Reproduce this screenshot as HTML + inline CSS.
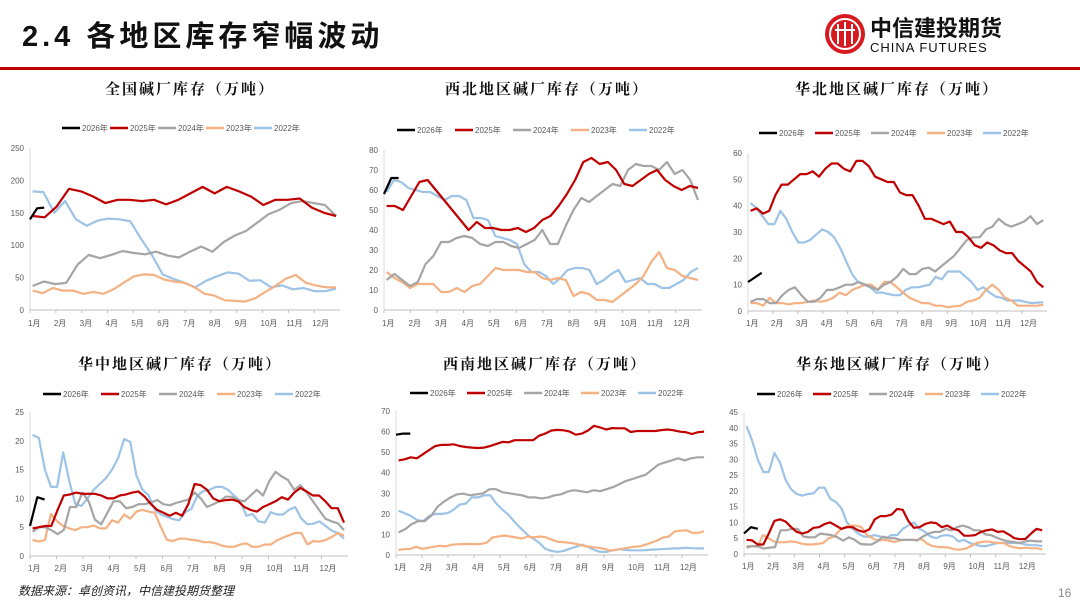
<!DOCTYPE html>
<html><head><meta charset="utf-8">
<style>
body{margin:0;width:1080px;height:608px;background:#fff;overflow:hidden;font-family:"Liberation Sans","Noto Sans CJK SC",sans-serif;}
svg{position:absolute;left:0;top:0}
</style></head>
<body>
<svg id="s" width="1080" height="608">
<text x="22" y="46" font-size="29" font-weight="bold" fill="#111" font-family="Liberation Sans,Noto Sans CJK SC,sans-serif" letter-spacing="4">2.4 各地区库存窄幅波动</text>
<g>
<circle cx="845" cy="34" r="20" fill="#d71920"/>
<circle cx="845" cy="34" r="15" fill="none" stroke="#fff" stroke-width="2"/>
<path d="M838 24 V44 M845 22 V46 M852 24 V44 M835 30 H855" stroke="#fff" stroke-width="2" fill="none"/>
<text x="870" y="36" font-size="22" font-weight="bold" fill="#111" font-family="Noto Sans CJK SC,sans-serif">中信建投期货</text>
<text x="870" y="52" font-size="13" fill="#111" letter-spacing="1">CHINA FUTURES</text>
</g>
<rect x="0" y="67" width="1080" height="3" fill="#c00000"/>
<text x="18" y="595" font-size="12" font-style="italic" fill="#222" font-family="Liberation Sans,Noto Sans CJK SC,sans-serif">数据来源：卓创资讯，中信建投期货整理</text>
<text x="1058" y="597" font-size="12" fill="#888">16</text>
</svg>
<script>
const seriesNames=["2026年","2025年","2024年","2023年","2022年"];
const colors=["#000000","#c00000","#a5a5a5","#f4b183","#9dc3e6"];
const months=["1月","2月","3月","4月","5月","6月","7月","8月","9月","10月","11月","12月"];
const titles=["全国碱厂库存（万吨）","西北地区碱厂库存（万吨）","华北地区碱厂库存（万吨）","华中地区碱厂库存（万吨）","西南地区碱厂库存（万吨）","华东地区碱厂库存（万吨）"];
const yMax=[250,80,60,25,70,45];
const yStep=[50,10,10,5,10,5];
const p1_2026=[140,157,158];
const p1_2025=[145,143,160,187,183,175,165,170,170,168,170,163,170,180,190,180,190,183,175,162,170,170,172,158,150,145];
const p1_2024=[37,44,40,42,70,85,80,85,91,88,86,90,84,81,90,98,90,105,115,122,135,148,155,165,168,165,162,145];
const p1_2023=[30,26,34,30,30,25,28,25,32,42,52,55,54,47,44,42,35,25,22,15,14,13,18,28,37,48,54,42,38,35,35];
const p1_2022=[183,182,150,168,140,130,138,141,140,137,110,85,55,48,42,35,45,52,58,56,45,46,35,38,32,34,29,29,33];
const p2_2026=[58,66,66];
const p2_2025=[52,52,50,57,64,65,60,55,50,45,40,44,41,41,40,40,41,39,41,45,47,52,58,65,74,76,73,74,70,63,62,65,68,70,65,62,60,62,61];
const p2_2024=[15,18,15,12,14,23,27,34,34,36,37,36,33,32,34,34,32,31,33,35,40,33,33,42,50,56,54,57,60,63,62,70,73,72,72,70,74,68,70,65,55];
const p2_2023=[19,16,14,11,13,13,13,9,9,11,9,12,13,17,21,20,20,20,19,19,16,15,16,15,7,9,8,5,5,4,7,10,13,17,24,29,21,20,17,16,15];
const p2_2022=[59,65,64,61,60,59,59,57,55,57,57,55,46,46,45,37,36,35,33,23,19,19,17,13,16,20,21,21,20,13,15,18,20,14,15,16,13,13,11,11,13,15,19,21];
const p3_2026=[11,14.5];
const p3_2025=[38,39,37,38,44,48,48,50,52,52,53,51,54,56,56,54,53,57,57,55,51,50,49,49,45,44,44,40,35,35,34,33,34,30,30,28,25,24,26,25,23,22,22,19,17,15,11,9];
const p3_2024=[3.5,4.5,4.5,3,3,6,8,9,6,3.5,3.5,5,8,8,9,10,10,11,10,9,8,10,11,13,16,14,14,16,16.5,15,17,19,21,24,27,28,28,31,32,35,33,32,33,34,36,33,34.5];
const p3_2023=[3,3,2,5,3,3,2.5,3,3,3.5,4,3.5,4,5,7,6,8,9,10,10,8,11,11,9,7,5,4,3,3,2,2,1.5,1.8,2,3.5,4,5,8,10,8,5,4,2,2,2,2,2.3];
const p3_2022=[41,39,36,33,33,38,35,30,26,26,27,29,31,30,28,24,19,14,11,10,9,7,7,6.5,6,6,8,9,9,9.5,10,13,12,15,15,15,13,11,8,9,7,5.5,5,4,4,4,3.5,3,3.2,3.3];
const p4_2026=[5.2,10.2,9.8];
const p4_2025=[4.8,5,5.2,5.2,8,10.5,10.7,11,10.8,10.8,10.8,10.5,10,10,10.5,10.7,11,11.2,10.3,9,8,7.5,7,7.5,7,9,12.5,12.3,11.5,10,9.5,9.7,9.8,9.5,8.5,8,7.7,8.5,9,9.5,10.2,9.8,11,11.8,11.2,10.5,10.5,9.5,8.3,8.3,5.8];
const p4_2024=[4.2,5,5,4.5,3.8,4.5,8.5,8.5,11,9.5,6.3,5.5,7.5,9.5,9.5,8.3,8.5,9,9,9.3,9.7,9,8.8,9.2,9.5,9.8,11,10,8.5,9,9.5,10.3,10.3,9.7,9.5,10.5,11.5,10.5,13,14.6,13.8,13.2,11.5,12.3,11,9.5,8,6.5,6,5.7,4.5];
const p4_2023=[2.8,2.5,2.8,7.3,6,5.2,4.8,4.5,5,5,5.3,4.8,4.8,6.2,5.8,7.2,6.5,7.7,8,7.7,7.5,5,2.8,2.6,3,3,2.8,2.7,2.4,2.4,2.2,1.8,1.6,1.6,2,2.2,1.6,1.6,2,2,2.7,3.2,3.6,4,4,2,2.6,2.5,2.8,3.3,4,3.5];
const p4_2022=[21,20.5,15,12,12,18,13,9,8.7,10,11.5,12.5,13.5,15,17,20.3,19.8,14,11.5,10.5,8,7.2,6.8,6.4,6.2,7.6,8.2,10.5,11.3,11.5,12,12,11.5,10.5,9.5,7,7.3,6,5.8,7.6,7.2,7.2,8,8.5,6.5,5.5,5.6,6,5.2,4.4,4,3];
const p5_2026=[58.5,59,59];
const p5_2025=[46,46.5,47.5,47,49,51,53,53.5,53.5,53.8,53,52.5,52.2,52,52.2,53,54,55,54.8,55.8,55.8,55.8,55.8,58,59,60.5,60.8,60.6,60,58.5,59,60.5,62.8,62,61,61.7,61.6,61.6,59.8,60.3,60.3,60.3,60.3,60.7,61,60.6,60,59.7,58.8,59.7,60];
const p5_2024=[11,12.5,15,16.5,16.5,19,23.5,26,28,29.5,29.8,29,29.5,30,32,32,30.5,30,29.5,29,28,28,27.5,28,29,29.5,30.8,31.5,31,30.5,31.5,31,32,33,34.5,36,37,38,39,41.5,44,45,46,47,46,47,47.5,47.5];
const p5_2023=[2.5,2.8,3,4,3,3.5,4,4.5,4.2,5,5.2,5.3,5.4,5.3,5.4,6,8.5,9,9.5,9,8.5,8,9,8.5,9,8.7,7.5,6.5,6.2,6,5.5,4.8,4.2,3.8,3.5,3,2.2,2.5,3,3.5,4,4.2,5,6,7,8.5,9,11.5,11.8,12,10.8,10.8,11.5];
const p5_2022=[21.5,20.3,19,17,16.5,19,20,20,20.3,22,24.5,25,28,28,29,29,25,22,19.5,16,13,10,8,6,3,2,1.5,2,3,4,5,4,2.5,1.5,1.5,2.3,2.8,2.5,2.3,2.3,2.3,2.5,2.7,2.8,3,3.2,3.2,3.5,3.3,3.2,3.2];
const p6_2026=[6.5,8.5,8];
const p6_2025=[4.5,4.3,3,3,6.5,10.5,11,10.3,8.5,7,6.5,7,8.3,8.5,9.5,10,9,8,8.5,8.5,7.5,7,7.8,11,12,12,12.5,14.3,14,10.5,8.3,8.5,9.5,10,9.8,8.5,9,8,7.5,5.8,5.8,6,7,7.5,7.8,7,7.2,6.2,5,4.7,4.8,6.5,8,7.5];
const p6_2024=[2,2.5,2.5,1.7,2,2.2,7.5,7.5,8,8,5.5,5.3,5.3,6.5,6.2,6,5.3,4.2,5.3,4.5,3.2,3,3,4,5.5,5,5,4.5,4.5,4.5,4.3,5.5,6.5,7,7,8,7.5,8.5,9,8.5,7.5,7.5,6.2,6,5.2,4.5,4,3.8,3.5,4,4.2,4,4];
const p6_2023=[2.5,2.5,2.2,6,5,4,3.7,3.7,4,3.8,3.3,3,3,3.2,3.5,5,5.5,7.5,8.5,9,9,8.5,6,5,4.2,4.5,4.2,3.8,4.3,4.5,4.5,4.5,4.7,3.3,2.5,2.2,2.2,2,1.5,1.4,1.7,2.5,3.5,3.8,4,3.7,3.5,3.5,2.5,2.1,1.8,2,1.8,1.8,1.5];
const p6_2022=[40.5,36,30,26,26,32,29,23.5,20.5,19,18.5,19,19.2,21,21,17.5,16.5,14.5,10,8,6.5,5.5,5.5,6,5.5,5,6,6,8,9,10,8,7,5.5,5,5.8,6,5.5,4,4.5,3.5,3,2.5,2.5,3,3.5,3.5,3.5,3.5,3.5,3,2.8,2.8,2.5];
const panelData=[[p1_2026,p1_2025,p1_2024,p1_2023,p1_2022],[p2_2026,p2_2025,p2_2024,p2_2023,p2_2022],[p3_2026,p3_2025,p3_2024,p3_2023,p3_2022],[p4_2026,p4_2025,p4_2024,p4_2023,p4_2022],[p5_2026,p5_2025,p5_2024,p5_2023,p5_2022],[p6_2026,p6_2025,p6_2024,p6_2023,p6_2022]];

const layout=[
 {x0:30,x1:340,yt:148,yb:310,tx:190,ty:94,lx:62,ls:48,ly:128,my:326},
 {x0:384,x1:702,yt:150,yb:310,tx:547,ty:94,lx:397,ls:58,ly:130,my:326},
 {x0:748,x1:1047,yt:153,yb:311,tx:897,ty:94,lx:759,ls:56,ly:133,my:326},
 {x0:30,x1:348,yt:412,yb:556,tx:180,ty:369,lx:43,ls:58,ly:394,my:571},
 {x0:396,x1:708,yt:411,yb:555,tx:545,ty:369,lx:410,ls:57,ly:393,my:570},
 {x0:744,x1:1046,yt:412,yb:554,tx:898,ty:369,lx:757,ls:56,ly:394,my:569}
];
const NS="http://www.w3.org/2000/svg";
const svg=document.getElementById('s');
function mk(tag,attrs,parent){const e=document.createElementNS(NS,tag);for(const k in attrs)e.setAttribute(k,attrs[k]);(parent||svg).appendChild(e);return e;}
layout.forEach((L,p)=>{
  const g=mk('g',{});
  
  
  const mw=(L.x1-L.x0)/12;
  const xS=m=>L.x0+m*mw;
  const yS=v=>L.yb-(v/yMax[p])*(L.yb-L.yt);
  const t=mk('text',{x:L.tx,y:L.ty,'text-anchor':'middle','font-size':15,'font-weight':'bold',fill:'#111','font-family':'Liberation Serif,Noto Serif CJK SC,serif','letter-spacing':'2'},g);
  t.textContent=titles[p];
  
  
  seriesNames.forEach((n,i)=>{
    const lg=mk('g',{},g);
    
    
    const lx=L.lx+i*L.ls;
    mk('line',{x1:lx,x2:lx+18,y1:L.ly,y2:L.ly,stroke:colors[i],'stroke-width':2.5},lg);
    const tt=mk('text',{x:lx+20,y:L.ly+3,'font-size':8,fill:'#595959'},lg);
    tt.textContent=n;
  });
  mk('line',{x1:L.x0,x2:L.x0,y1:L.yt,y2:L.yb,stroke:'#d9d9d9','stroke-width':1},g);
  mk('line',{x1:L.x0,x2:L.x1,y1:L.yb,y2:L.yb,stroke:'#bfbfbf','stroke-width':1},g);
  for(let v=0;v<=yMax[p];v+=yStep[p]){
    const tl=mk('text',{x:L.x0-6,y:yS(v)+3,'text-anchor':'end','font-size':8,fill:'#595959'},g);
    tl.textContent=v;
    
    
  }
  months.forEach((m,i)=>{
    mk('line',{x1:xS(i),x2:xS(i),y1:L.yb,y2:L.yb+3,stroke:'#bfbfbf'},g);
    const ml=mk('text',{x:xS(i)-2,y:L.my,'font-size':8,fill:'#595959'},g);
    ml.textContent=m;
    
    
  });
  for(let i=4;i>=0;i--){
    const d=panelData[p][i];
    const a=i===0?0:0.1, b=i===0?0.55:11.85;
    const pts=d.map((v,k)=>xS(a+(b-a)*k/(d.length-1)).toFixed(1)+','+yS(v).toFixed(1)).join(' ');
    const pl=mk('polyline',{points:pts,fill:'none',stroke:colors[i],'stroke-width':2.2,'stroke-linejoin':'round'},g);
    
    
  }
});
</script>
</body></html>
